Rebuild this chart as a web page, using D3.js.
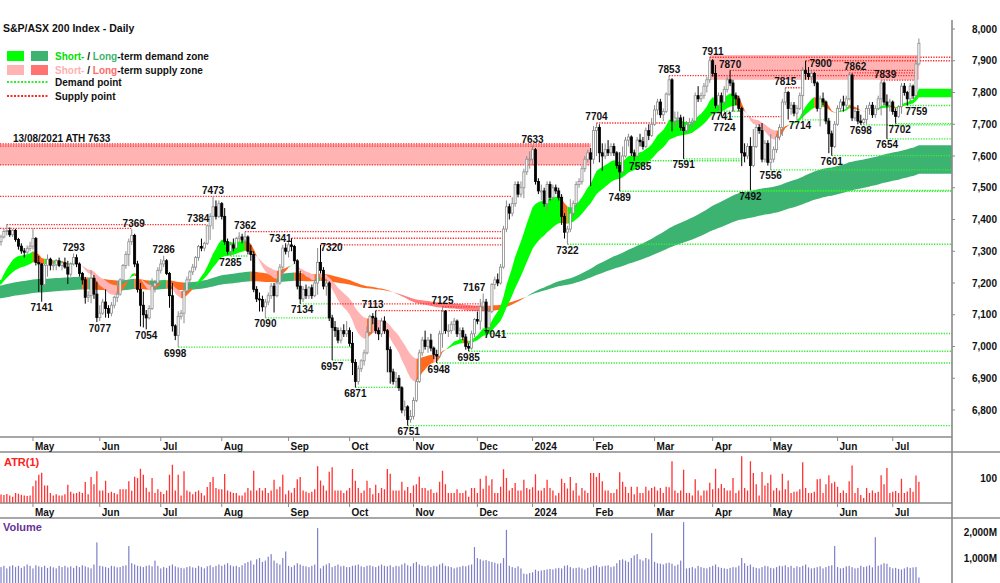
<!DOCTYPE html>
<html><head><meta charset="utf-8">
<script src="https://cdn.jsdelivr.net/npm/d3@7"></script>
<style>
body{margin:0;background:#fff}
svg{display:block}
text{font-family:Arial,"Liberation Sans",sans-serif;font-weight:bold;}
</style>
</head><body>
<svg id="c" width="1000" height="583"></svg>
<script>
// ---------------- DATA ----------------
// Daily bars, 13 Apr 2023 .. 12 Jul 2024 (index 0..316)
const opens = [
7330,7345,7362,7365,7352,7366,7337,7316,7301,7297,7309,
7316,7340,7265,7260,7195,7256,7275,7256,7257,7270,7255,7264,7250,7228,7260,7280,7260,7230,7210,7155,7160,7215,7165,
7091,7105,7140,7120,7105,7130,7155,7165,7210,7255,7290,7330,7350,7260,7180,7130,7100,7090,7120,7190,7200,
7240,7260,7270,7230,7160,7065,7035,7095,7105,7175,7210,7235,7250,7280,7315,7310,7325,7380,7410,7440,7410,
7450,7410,7330,7300,7320,7310,7340,7345,7335,7345,7300,7290,7180,7150,7148,7125,7140,7160,7190,7160,7200,7250,7310,
7300,7320,7315,7270,7190,7150,7180,7160,7185,7160,7200,7265,7240,7190,7200,7090,7060,7050,7020,7050,7040,
7050,7010,6950,6890,6930,6955,6980,7045,7095,7090,7050,7040,7080,7050,6990,6920,6890,6900,6870,6800,6810,6770,
6780,6830,6890,6980,7020,7000,7020,6995,6975,6970,7040,7110,7050,7050,7070,7080,7040,7050,7030,7000,6995,7040,
7085,7080,7125,7140,7060,7110,7195,7210,7200,7250,7370,7440,7420,7450,7510,7480,7500,7550,7590,
7590,7620,7520,7490,7490,7450,7510,7470,7500,7490,7470,7410,7360,7370,7420,7450,7510,7520,7560,7590,7610,
7590,7680,7690,7610,7600,7620,7610,7630,7610,7570,7550,7600,7650,7660,7610,7600,7650,7645,7630,7680,7665,
7700,7745,7770,7730,7740,7795,7840,7710,7720,7720,7690,7680,7700,7705,7710,7790,7780,7790,7820,7840,
7900,7860,7760,7790,7770,7810,7840,7830,7790,7780,7750,7610,7600,7630,7570,7630,7690,7680,7590,7640,
7580,7590,7620,7660,7690,7770,7800,7750,7760,7735,7750,7790,7870,7860,7850,7860,7830,7750,7780,7770,7710,7670,7630,
7700,7750,7770,7760,7780,7855,7720,7740,7710,7705,7715,7750,7760,7730,7750,7780,7830,7770,7760,
7770,7740,7725,7755,7820,7800,7780,7820,7790,7890];
const highs = [
7352,7372,7386,7375,7370,7370,7342,7325,7310,7318,7330,
7372,7345,7285,7262,7260,7290,7280,7270,7275,7280,7270,7280,7270,7265,7293,7290,7265,7235,7219,7175,7240,7225,7204,
7130,7150,7180,7130,7140,7160,7175,7215,7260,7300,7340,7369,7355,7270,7200,7173,7115,7130,7215,7210,7250,
7275,7286,7275,7235,7200,7070,7111,7115,7200,7220,7240,7260,7285,7320,7340,7330,7384,7420,7473,7460,7460,
7455,7436,7340,7330,7340,7345,7360,7355,7362,7350,7320,7300,7190,7170,7160,7150,7170,7200,7200,7210,7260,7320,7325,
7330,7341,7320,7275,7238,7190,7195,7190,7195,7210,7310,7320,7250,7210,7205,7100,7080,7060,7060,7070,7080,
7060,7046,6960,6940,6960,6990,7064,7100,7105,7113,7060,7090,7095,7055,7000,6930,6920,6910,6875,6830,6815,6800,
6840,6900,6990,7030,7050,7030,7040,7000,6990,7050,7125,7115,7070,7080,7090,7085,7060,7060,7040,7010,7050,7090,
7110,7150,7167,7150,7120,7200,7220,7230,7260,7380,7460,7450,7470,7520,7520,7520,7560,7600,7615,
7633,7625,7530,7510,7500,7520,7520,7510,7510,7500,7480,7420,7380,7464,7460,7520,7530,7570,7600,7620,7625,
7695,7704,7700,7640,7640,7650,7640,7640,7615,7612,7630,7660,7670,7665,7620,7660,7670,7660,7690,7700,7720,
7760,7780,7780,7750,7800,7853,7845,7740,7740,7730,7724,7710,7720,7720,7800,7820,7800,7830,7850,7911,
7905,7887,7800,7800,7820,7850,7870,7840,7800,7790,7755,7640,7640,7659,7685,7700,7700,7704,7650,7650,
7669,7630,7670,7700,7780,7815,7805,7770,7770,7760,7800,7880,7900,7880,7870,7865,7835,7790,7800,7775,7720,7680,7710,
7760,7780,7790,7790,7862,7860,7750,7760,7730,7720,7760,7770,7770,7760,7790,7839,7835,7794,7780,
7775,7750,7760,7830,7830,7805,7830,7825,7900,7970];
const lows = [
7318,7340,7350,7345,7345,7330,7305,7292,7280,7290,7300,
7305,7255,7172,7141,7190,7220,7240,7240,7240,7250,7240,7245,7197,7220,7255,7250,7220,7195,7135,7140,7136,7150,7077,
7080,7100,7091,7090,7095,7120,7140,7160,7205,7245,7253,7320,7250,7170,7063,7060,7054,7085,7115,7170,7195,
7230,7250,7225,7122,7047,7020,6998,7085,7073,7170,7195,7225,7240,7270,7300,7300,7320,7336,7369,7400,7405,
7400,7320,7290,7285,7300,7305,7330,7325,7320,7290,7270,7171,7140,7110,7110,7090,7130,7150,7107,7155,7195,7207,7290,
7280,7300,7260,7180,7134,7140,7150,7150,7150,7155,7163,7230,7180,7160,7080,6957,7030,7010,7010,7030,7030,
7000,6910,6871,6880,6920,6940,6975,7040,7070,7040,7020,7030,7040,6919,6883,6880,6870,6860,6790,6780,6751,6760,
6770,6825,6885,6970,6990,6980,6985,6960,6948,6965,6996,7040,7030,7040,7050,7030,7020,7020,6990,6985,6990,7030,
7070,7053,7110,7041,7050,7105,7180,7190,7195,7245,7360,7400,7410,7440,7470,7470,7467,7540,7560,
7570,7510,7480,7460,7440,7427,7460,7460,7480,7460,7383,7340,7322,7360,7410,7440,7500,7510,7550,7580,7505,
7575,7600,7580,7553,7590,7600,7600,7600,7560,7489,7545,7595,7630,7600,7585,7595,7630,7620,7625,7650,7660,
7695,7730,7720,7710,7735,7790,7678,7690,7700,7680,7591,7670,7680,7690,7705,7770,7770,7780,7800,7830,
7850,7750,7741,7724,7760,7800,7820,7740,7760,7740,7568,7580,7590,7492,7565,7625,7670,7580,7580,7570,
7556,7580,7610,7650,7663,7760,7715,7730,7725,7714,7745,7717,7840,7840,7830,7820,7740,7693,7760,7700,7609,7601,7625,
7695,7740,7740,7750,7775,7710,7710,7700,7698,7700,7700,7730,7720,7720,7745,7728,7760,7654,7740,
7730,7702,7720,7733,7790,7759,7770,7780,7811,7885];
const closes = [
7345,7362,7365,7352,7366,7337,7316,7301,7297,7309,7316,
7340,7265,7260,7195,7256,7275,7256,7257,7270,7255,7264,7250,7228,7260,7280,7260,7230,7210,7155,7160,7215,7165,7091,
7105,7140,7120,7105,7130,7155,7165,7210,7255,7290,7330,7350,7260,7180,7130,7100,7090,7120,7190,7200,7240,
7260,7270,7230,7160,7065,7035,7095,7105,7175,7210,7235,7250,7280,7315,7310,7325,7380,7410,7440,7410,7450,
7410,7330,7300,7320,7310,7340,7345,7335,7345,7300,7290,7180,7150,7148,7125,7140,7160,7190,7160,7200,7250,7310,7300,
7320,7315,7270,7190,7150,7180,7160,7185,7160,7200,7265,7240,7190,7200,7090,7060,7050,7020,7050,7040,7050,
7010,6950,6890,6930,6955,6980,7045,7095,7090,7050,7040,7080,7050,6990,6920,6890,6900,6870,6800,6810,6770,6780,
6830,6890,6980,7020,7000,7020,6995,6975,6970,7040,7110,7050,7050,7070,7080,7040,7050,7030,7000,6995,7040,7085,
7080,7125,7140,7060,7110,7195,7210,7200,7250,7370,7440,7420,7450,7510,7480,7500,7550,7590,7590,
7620,7520,7490,7490,7450,7510,7470,7500,7490,7470,7410,7360,7370,7420,7450,7510,7520,7560,7590,7610,7590,
7680,7690,7610,7600,7620,7610,7630,7610,7570,7550,7600,7650,7660,7610,7600,7650,7645,7630,7680,7665,7700,
7745,7770,7730,7740,7795,7840,7710,7720,7720,7690,7680,7700,7705,7710,7790,7780,7790,7820,7840,7900,
7860,7760,7790,7770,7810,7840,7830,7790,7780,7750,7610,7600,7630,7570,7630,7690,7680,7590,7640,7580,
7590,7620,7660,7690,7770,7800,7750,7760,7735,7750,7790,7870,7860,7850,7860,7830,7750,7780,7770,7710,7670,7630,7700,
7750,7770,7760,7780,7855,7720,7740,7710,7705,7715,7750,7760,7730,7750,7780,7830,7770,7760,7770,
7740,7725,7755,7820,7800,7780,7820,7790,7890,7955];
// Volume, millions of shares
const volumes = [
650,700,600,680,720,650,700,620,680,750,700,
600,720,680,650,700,620,680,640,600,700,650,700,640,680,620,700,650,720,680,640,600,750,1600,
700,680,650,620,700,680,640,650,700,720,1460,800,750,700,680,650,700,720,680,900,700,
600,650,620,700,750,680,640,620,600,650,680,640,620,700,650,600,680,720,650,700,750,
700,750,800,720,680,700,650,720,800,850,900,750,950,1000,850,900,1050,1150,900,800,750,1000,1250,
700,650,720,800,750,700,680,650,700,750,2150,600,700,750,800,650,700,750,680,700,650,
650,700,720,750,680,650,700,720,680,650,700,750,700,680,720,650,700,680,750,800,720,680,
800,850,750,700,680,720,650,700,680,750,800,700,680,650,600,640,660,700,680,720,750,1420,
1000,950,900,920,880,850,820,780,800,1000,2080,700,650,620,680,600,400,380,420,
450,550,500,520,540,560,580,560,600,620,600,700,720,650,600,620,640,600,550,620,650,
700,720,650,680,700,720,650,680,800,920,950,900,850,1000,1100,1150,950,900,1000,950,1960,
850,800,780,750,800,820,780,700,750,900,2380,600,620,650,600,700,650,620,600,650,
700,750,650,620,600,580,620,650,640,700,1000,800,700,750,650,620,600,650,700,680,
620,600,650,700,680,720,650,700,620,680,650,700,750,640,600,620,650,680,600,650,700,720,1460,
650,600,620,680,700,650,600,620,700,650,680,720,640,1800,700,750,800,780,650,
600,620,580,560,600,650,620,640,650,250];

const monthStart = [11,34,55,76,99,120,142,164,183,204,225,245,265,288,307];
const monthNames = ["May","Jun","Jul","Aug","Sep","Oct","Nov","Dec","2024","Feb","Mar","Apr","May","Jun","Jul"];

const priceTicks = [6800,6900,7000,7100,7200,7300,7400,7500,7600,7700,7800,7900,8000];
const atrTicks = [100];
const volTicks = [1000,2000];

// pivot labels
const pivotValue = [7293,7141,7077,7369,7054,7286,6998,7384,7473,7285,7362,7090,7341,7134,7320,6957,7113,6871,6751,6948,7125,6985,7167,7041,7633,7322,7704,7489,7585,7853,7591,7911,7870,7741,7724,7492,7556,7815,7714,7900,7601,7862,7698,7839,7654,7702,7759];
const pivotIdx   = [25,14,33,45,50,56,61,71,73,79,84,91,100,103,110,114,129,122,140,150,152,161,166,167,183,195,205,213,218,230,235,244,251,247,248,258,265,270,274,277,286,292,296,303,305,308,312];
const pivotSide  = ["H","L","L","H","L","H","L","H","H","L","H","L","H","L","H","L","H","L","L","L","H","L","H","L","H","L","H","L","L","H","L","H","H","L","L","L","L","H","L","H","L","H","L","H","L","L","L"];

// supply / demand points: level, from bar, to bar
const supplyLevel = [7473,7384,7372,7362,7341,7320,7134,7113,7125,7638,7631,7572,7704,7853,7911,7870,7815,7900,7862,7839,7724];
const supplyFrom  = [-1,2,-1,84,100,110,113,129,152,-1,-1,-1,205,230,244,251,270,277,292,303,255];
const supplyTo    = [176,71,45,173,173,173,166,166,166,203,203,203,229,315,999,315,276,999,315,315,269];
const demandLevel = [7285,7090,7134,6998,6957,6871,6751,6948,6985,7041,7322,7489,7585,7591,7741,7724,7492,7556,7714,7601,7698,7654,7702,7759];
const demandFrom  = [79,91,103,61,114,122,140,150,161,167,195,213,218,235,247,248,258,265,274,286,296,305,308,312];
const demandTo    = [85,113,113,121,121,138,999,999,999,999,999,999,255,255,255,255,999,999,285,999,999,999,999,999];

// supply zones (price bands) : low, high, from bar, to bar
const zoneLow  = [7572,7840];
const zoneHigh = [7638,7918];
const zoneFrom = [-1,244];
const zoneTo   = [203,316];

// moving-average zone settings
const shortPeriods = [15,30], shortSeed = [7190,7185];
const longPeriods  = [150,230], longSeed = [7190,7150];

// ---------------- LAYOUT ----------------
const svg = d3.select("#c");
const AX = 952;
const main = {top:20,bottom:437}, atrP = {top:452,bottom:503}, volP = {top:518,bottom:583};
const N = closes.length;
const x = d3.scaleLinear().domain([-0.35,327.4]).range([0,AX]);
const y = d3.scaleLinear().domain([6800,8000]).range([410,29]);
const yA = d3.scaleLinear().domain([0,100]).range([503,478]);
const yV = d3.scaleLinear().domain([0,2000]).range([584,532]);
const xMax = 327.4;
const clampI = v => Math.max(-0.35, Math.min(xMax, v));

svg.append("rect").attr("width",1000).attr("height",583).attr("fill","#fff");
svg.append("defs").append("clipPath").attr("id","mc").append("rect")
  .attr("x",0).attr("y",main.top).attr("width",AX).attr("height",main.bottom-main.top);
const g = svg.append("g").attr("clip-path","url(#mc)");

// ---- EMA bands (colour: trend of the two averages vs where price closes)
function ema(vals,n,seed){const a=2/(n+1);let e=seed;return vals.map(v=>(e=e+a*(v-e)));}
function band(periods,seeds,cols){
  const f=ema(closes,periods[0],seeds[0]), s=ema(closes,periods[1],seeds[1]);
  const st=f.map((v,i)=> v>=s[i] ? (closes[i]>=s[i]?"up":"mx") : (closes[i]<=s[i]?"dn":"mx"));
  const area=d3.area().x(d=>x(d.i)).y0(d=>y(d.s)).y1(d=>y(d.f));
  let a=0;
  for(let i=1;i<=N;i++){
    if(i===N||st[i]!==st[a]){
      const pts=[];
      for(let k=Math.max(0,a-1);k<=i-1;k++)pts.push({i:k,f:f[k],s:s[k]});
      if(a===0)pts.unshift({i:-0.35,f:f[0],s:s[0]});
      if(i===N)pts.push({i:xMax,f:f[N-1],s:s[N-1]});
      g.append("path").attr("d",area(pts)).attr("fill",cols[st[a]]);
      a=i;
    }
  }
}
band(longPeriods,longSeed,{up:"#3CB371",dn:"#FF8080",mx:"#FF6A1F"});
band(shortPeriods,shortSeed,{up:"#00FF00",dn:"#FFB3B3",mx:"#FF6A1F"});

// ---- zones
zoneLow.forEach((lo,k)=>{
  g.append("rect").attr("x",x(clampI(zoneFrom[k]))).attr("width",x(clampI(zoneTo[k]))-x(clampI(zoneFrom[k])))
   .attr("y",y(zoneHigh[k])).attr("height",y(lo)-y(zoneHigh[k])).attr("fill","#FFB3B3");
});

// ---- demand / supply lines
function hline(v,a,b,col){
  g.append("line").attr("x1",x(clampI(a))).attr("x2",x(clampI(b))).attr("y1",y(v)).attr("y2",y(v))
   .attr("stroke",col).attr("stroke-width",1.3).attr("stroke-dasharray","1.3,1.3");
}
demandLevel.forEach((v,k)=>hline(v,demandFrom[k],demandTo[k],"#33EE33"));
supplyLevel.forEach((v,k)=>hline(v,supplyFrom[k],supplyTo[k],"#FF2A2A"));

// ---- candles
const bw=2.1;
for(let i=0;i<N;i++){
  const up=closes[i]>=opens[i];
  const xc=x(i);
  g.append("line").attr("x1",xc).attr("x2",xc).attr("y1",y(highs[i])).attr("y2",y(lows[i]))
   .attr("stroke",up?"#8c8c8c":"#000").attr("stroke-width",1);
  const t=y(Math.max(opens[i],closes[i])), b=y(Math.min(opens[i],closes[i]));
  g.append("rect").attr("x",xc-bw/2).attr("width",bw).attr("y",t).attr("height",Math.max(1,b-t))
   .attr("fill",up?"#fff":"#000").attr("stroke",up?"#8c8c8c":"#000").attr("stroke-width",0.8);
}

// ---- pivot labels
const nudge = {7077:[3,0],7369:[2,0],6998:[-3,0],7384:[-9,0],7341:[-11,6],7134:[2,0],7320:[11,9],7113:[-3,0],
  6948:[2,0],7167:[-9,0],7041:[9,-5],7585:[6,0],7911:[3,0],7741:[3,-1],7724:[3,5],7714:[3,0],7900:[15,9],
  7862:[6,0],7839:[4,0],7702:[4,0],7759:[9,0],6751:[1,0]};
pivotValue.forEach((v,k)=>{
  const n=nudge[v]||[0,0];
  const yy = pivotSide[k]==="H" ? y(v)-2.5 : y(v)+9.5;
  svg.append("text").attr("x",x(pivotIdx[k])+n[0]).attr("y",yy+n[1]).attr("text-anchor","middle")
   .attr("font-size",10).attr("fill","#111").text(v);
});
svg.append("text").attr("x",13).attr("y",141.5).attr("font-size",10).attr("fill","#111").text("13/08/2021 ATH 7633");

// ---- ATR(1) = true range
const atr = closes.map((c,i)=>{const pc=i?closes[i-1]:opens[i];return Math.max(highs[i],pc)-Math.min(lows[i],pc);});
atr.forEach((v,i)=>{
  svg.append("rect").attr("x",x(i)-0.65).attr("width",1.3).attr("y",yA(v)).attr("height",atrP.bottom-yA(v)).attr("fill","#FF3333");
});
// ---- Volume
volumes.forEach((v,i)=>{
  svg.append("rect").attr("x",x(i)-0.6).attr("width",1.2).attr("y",yV(v)).attr("height",volP.bottom-yV(v)).attr("fill","#7F7FC8");
});

// ---- frame / axes
const gray="#8a8a8a";
[[main.bottom,AX],[atrP.top,1000],[atrP.bottom,AX],[volP.top,1000]].forEach(([yy,w])=>{
  svg.append("line").attr("x1",0).attr("x2",w).attr("y1",yy).attr("y2",yy).attr("stroke",gray).attr("stroke-width",1.6);
});
svg.append("line").attr("x1",AX).attr("x2",AX).attr("y1",20).attr("y2",583).attr("stroke",gray).attr("stroke-width",1.6);

[main.bottom,atrP.bottom].forEach(yy=>{
  monthStart.forEach((m,k)=>{
    svg.append("line").attr("x1",x(m)).attr("x2",x(m)).attr("y1",yy).attr("y2",yy+4).attr("stroke",gray).attr("stroke-width",1);
    svg.append("text").attr("x",x(m)+2).attr("y",yy+13).attr("font-size",10).attr("fill","#111").text(monthNames[k]);
  });
});
const fmt=d3.format(",");
priceTicks.forEach(t=>{
  svg.append("line").attr("x1",AX).attr("x2",AX+3).attr("y1",y(t)).attr("y2",y(t)).attr("stroke",gray);
  svg.append("text").attr("x",997).attr("y",y(t)+3.5).attr("text-anchor","end").attr("font-size",10).attr("fill","#111").text(fmt(t));
});
atrTicks.forEach(t=>{
  svg.append("text").attr("x",997).attr("y",yA(t)+3.5).attr("text-anchor","end").attr("font-size",10).attr("fill","#111").text(fmt(t));
});
volTicks.forEach(t=>{
  svg.append("text").attr("x",997).attr("y",yV(t)+3.5).attr("text-anchor","end").attr("font-size",10).attr("fill","#111").text(fmt(t)+"M");
});
svg.append("text").attr("x",4).attr("y",466).attr("font-size",11).attr("fill","#FF2020").text("ATR(1)");
svg.append("text").attr("x",3).attr("y",531).attr("font-size",11).attr("fill","#663399").text("Volume");

// ---- title & legend
svg.append("text").attr("x",3).attr("y",32).attr("font-size",10.5).attr("fill","#111").text("S&P/ASX 200 Index - Daily");
const lg=[
  {c1:"#00FF00",c2:"#3CB371",t1:"#00E000",t2:"#3CB371",rest:"-term demand zone"},
  {c1:"#FFB3B3",c2:"#FF7373",t1:"#FFB0B0",t2:"#FF6B6B",rest:"-term supply zone"}];
lg.forEach((r,k)=>{
  const yy=51+k*14;
  svg.append("rect").attr("x",7).attr("y",yy).attr("width",17).attr("height",10).attr("fill",r.c1);
  svg.append("rect").attr("x",31).attr("y",yy).attr("width",17).attr("height",10).attr("fill",r.c2);
  const t=svg.append("text").attr("x",55).attr("y",yy+9).attr("font-size",10);
  t.append("tspan").attr("fill",r.t1).text("Short-");
  t.append("tspan").attr("fill","#111").text(" / ");
  t.append("tspan").attr("fill",r.t2).text("Long");
  t.append("tspan").attr("fill","#111").text(r.rest);
});
[["#33EE33","Demand point",82],["#FF2A2A","Supply point",96]].forEach(([c,t,yy])=>{
  svg.append("line").attr("x1",7).attr("x2",48).attr("y1",yy).attr("y2",yy).attr("stroke",c).attr("stroke-width",2).attr("stroke-dasharray","2,1.5");
  svg.append("text").attr("x",55).attr("y",yy+4).attr("font-size",10).attr("fill","#111").text(t);
});
</script>
</body></html>
